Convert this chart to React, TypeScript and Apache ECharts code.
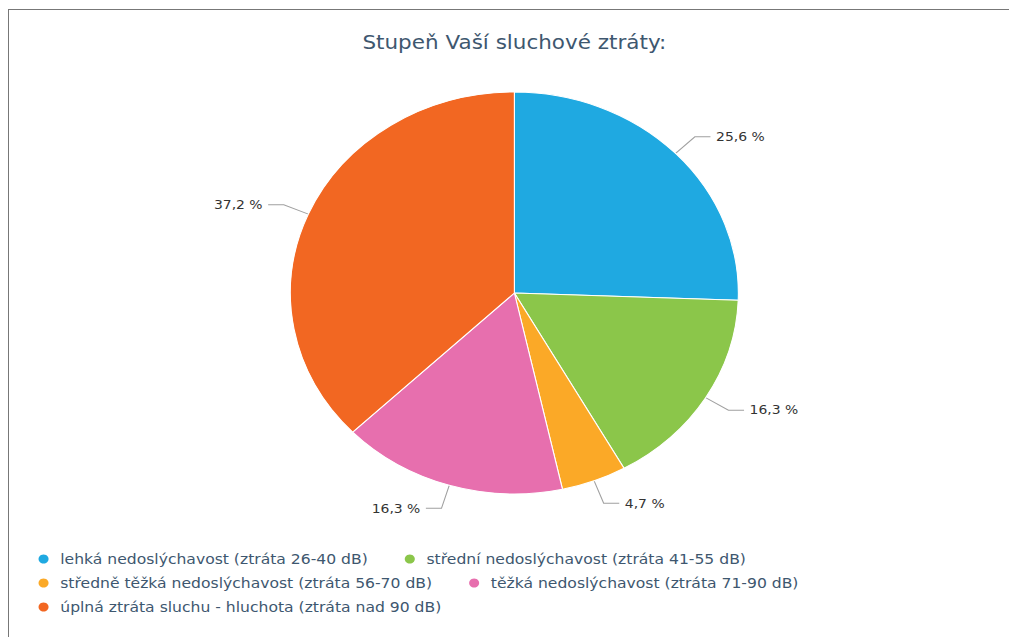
import React, { useEffect, useRef } from "react";
import * as echarts from "echarts";

const TITLE = "Stupeň Vaší sluchové ztráty:";
const categories = [
  "lehká nedoslýchavost (ztráta 26-40 dB)",
  "střední nedoslýchavost (ztráta 41-55 dB)",
  "středně těžká nedoslýchavost (ztráta 56-70 dB)",
  "těžká nedoslýchavost (ztráta 71-90 dB)",
  "úplná ztráta sluchu - hluchota (ztráta nad 90 dB)",
];
const values = [25.6, 16.3, 4.7, 16.3, 37.2];
const colors = ["#1fa9e1", "#8bc64a", "#fba927", "#e76fae", "#f26722"];

const SX = 1.1144;
const CHART_W = 907;
const CHART_H = 627;
const FONT = "DejaVu Sans";

export default function App() {
  const ref = useRef<HTMLDivElement>(null);
  useEffect(() => {
    document.body.style.overflow = "hidden";
    if (!ref.current) return;
    const chart = echarts.init(ref.current, undefined, { renderer: "svg" });
    chart.setOption({
      animation: false,
      color: colors,
      title: {
        text: TITLE,
        left: "center",
        top: 23,
        padding: 0,
        textStyle: { fontFamily: FONT, fontSize: 19.3, fontWeight: "normal", color: "#3e576f" },
      },
      legend: {
        left: 26.5,
        top: 542,
        width: 800,
        padding: 0,
        itemGap: 10,
        itemWidth: 20,
        itemHeight: 9,
        icon: "circle",
        itemStyle: { borderWidth: 0 },
        data: categories,
        textStyle: {
          fontFamily: FONT,
          fontSize: 14,
          lineHeight: 14,
          color: "#3e576f",
          padding: [0, 23, 0, 0],
        },
      },
      series: [
        {
          type: "pie",
          center: ["50%", 283],
          radius: 201,
          startAngle: 90,
          clockwise: true,
          avoidLabelOverlap: false,
          emphasis: { disabled: true },
          itemStyle: { borderColor: "#ffffff", borderWidth: 1 },
          label: {
            show: true,
            position: "outside",
            fontFamily: FONT,
            fontSize: 12.5,
            color: "#333333",
            formatter: (p: any) => p.value.toFixed(1).replace(".", ",") + " %",
          },
          labelLine: {
            show: true,
            length: 24,
            length2: 14,
            lineStyle: { color: "#a0a0a0", width: 1 },
          },
          data: categories.map((name, i) => ({ name, value: values[i] })),
        },
      ],
    });
    return () => chart.dispose();
  }, []);

  return (
    <div
      style={{
        position: "absolute",
        left: 8,
        top: 9,
        width: 1001,
        height: 628,
        borderTop: "1px solid #777",
        borderLeft: "1px solid #777",
        overflow: "hidden",
        background: "#fff",
      }}
    >
      <div
        ref={ref}
        style={{
          position: "absolute",
          left: 0,
          top: 0,
          width: CHART_W,
          height: CHART_H,
          transform: `scaleX(${SX})`,
          transformOrigin: "0 0",
        }}
      />
    </div>
  );
}
